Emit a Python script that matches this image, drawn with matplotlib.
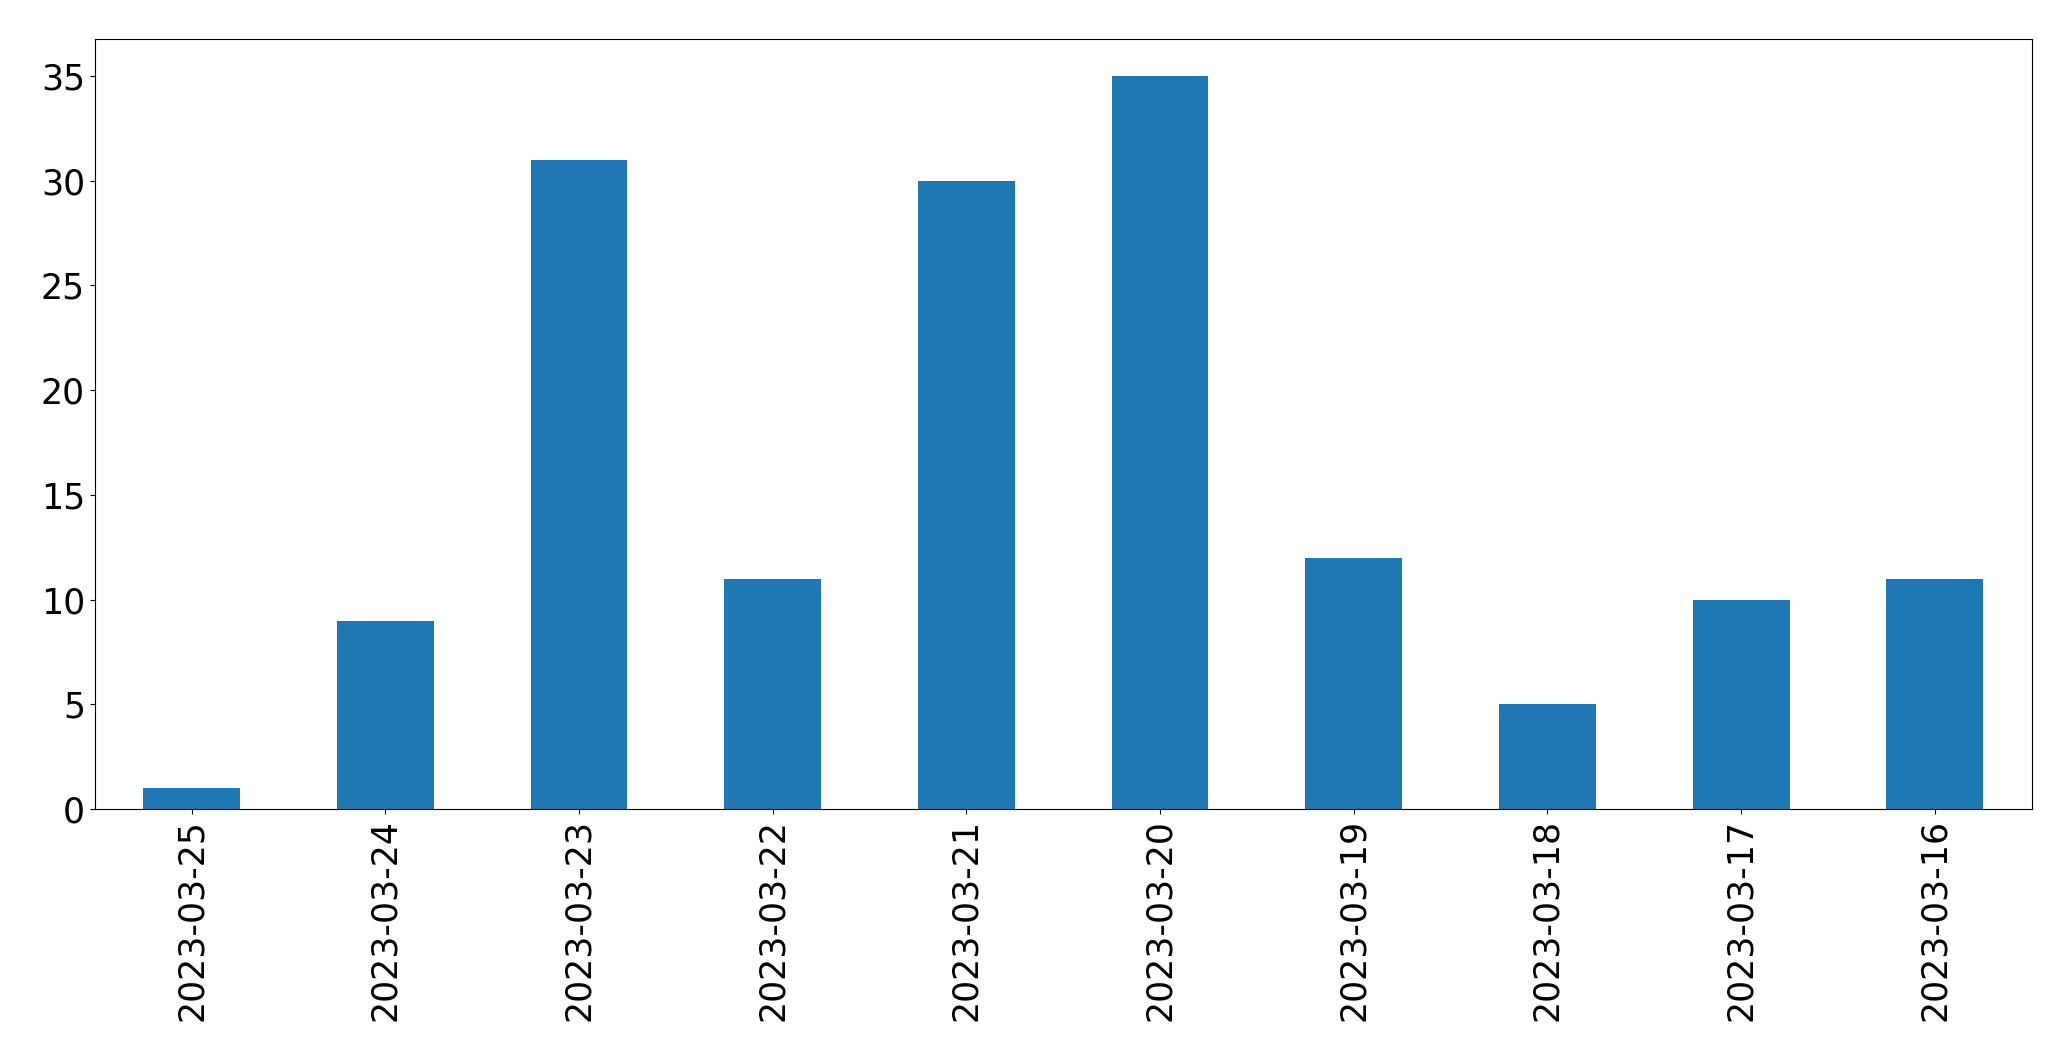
import matplotlib
matplotlib.use("Agg")
import matplotlib.pyplot as plt

dates = ["2023-03-25", "2023-03-24", "2023-03-23", "2023-03-22", "2023-03-21",
         "2023-03-20", "2023-03-19", "2023-03-18", "2023-03-17", "2023-03-16"]
counts = [1, 9, 31, 11, 30, 35, 12, 5, 10, 11]

fig = plt.figure(figsize=(20.71, 10.61), dpi=100)
ax = fig.add_axes([94.7 / 2071, 1 - 809 / 1061, (2031.7 - 94.7) / 2071, (809 - 39.3) / 1061])
x = list(range(len(dates)))
ax.bar(x, counts, width=0.5, color="#1f77b4")
ax.set_xlim(-0.5, len(dates) - 0.5)
ax.set_xticks(x)
ax.set_xticklabels(dates, rotation=90)
ax.tick_params(axis="both", labelsize=25)
fig.savefig("out.png", dpi=100)
